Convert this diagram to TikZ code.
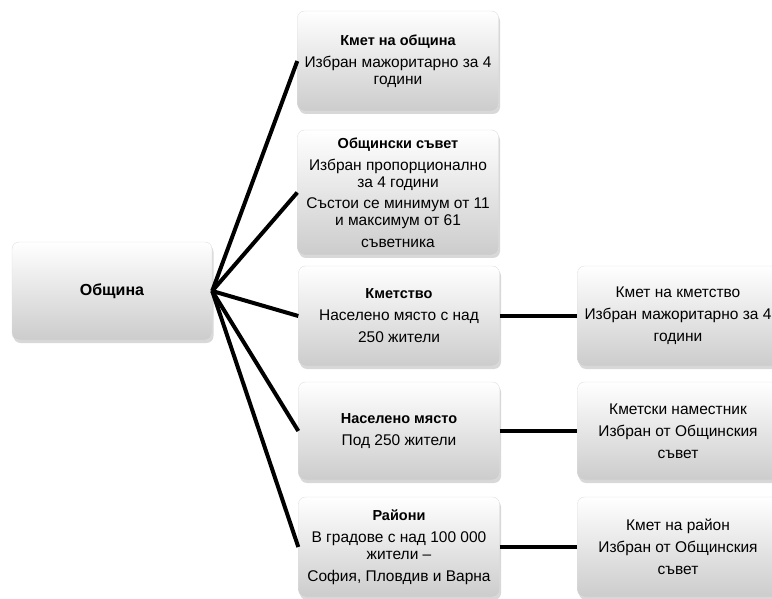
\documentclass[tikz,border=0pt]{standalone}
\usepackage{fontspec}
\setmainfont{Liberation Sans}
\usetikzlibrary{shadows}

\tikzset{
  box/.style={rounded corners=7pt, draw=gray!25, top color=white, bottom color=gray!40,
    drop shadow={shadow xshift=1.5pt, shadow yshift=-3pt, fill=gray!60},
    align=center, font=\fontsize{15.5}{17}\selectfont, inner sep=2pt,
    minimum width=201pt, minimum height=100pt},
  link/.style={line width=4pt}
}
\newcommand{\hd}[1]{{\fontsize{14.5}{17}\selectfont\bfseries #1}}

\begin{document}
\begin{tikzpicture}[x=1pt,y=-1pt]
\useasboundingbox (0,0) rectangle (772,599);
\clip (0,0) rectangle (772,599);
% left
\node[box, minimum width=200pt, minimum height=98pt] (obshtina) at (112,291) {{\fontsize{16}{17}\selectfont\bfseries Община}};
% middle column
\node[box] (kmet) at (398,61) {\hd{Кмет на община}\\[5pt]Избран мажоритарно за 4\\години};
\node[box, minimum height=125pt] (savet) at (398,192.5) {\hd{Общински съвет}\\[5pt]Избран пропорционално\\за 4 години\\[4pt]Състои се минимум от 11\\и максимум от 61\\[5pt]съветника};
\node[box] (kmetstvo) at (399,316) {\hd{Кметство}\\[5pt]Населено място с над\\[5pt]250 жители};
\node[box, minimum height=98pt] (naseleno) at (399,431) {\hd{Населено място}\\[5pt]Под 250 жители};
\node[box] (raioni) at (399,547) {\hd{Райони}\\[5pt]В градове с над 100 000\\жители –\\[5pt]София, Пловдив и Варна};
% right column
\node[box] (kmetK) at (678,316) {Кмет на кметство\\[5pt]Избран мажоритарно за 4\\[5pt]години};
\node[box, minimum height=98pt] (namestnik) at (678,431) {Кметски наместник\\[5pt]Избран от Общинския\\[5pt]съвет};
\node[box] (kmetR) at (678,547) {Кмет на район\\[5pt]Избран от Общинския\\[5pt]съвет};
% links
\draw[link] (obshtina.east) -- (kmet.west);
\draw[link] (obshtina.east) -- (savet.west);
\draw[link] (obshtina.east) -- (kmetstvo.west);
\draw[link] (obshtina.east) -- (naseleno.west);
\draw[link] (obshtina.east) -- (raioni.west);
\draw[link] (kmetstvo.east) -- (kmetK.west);
\draw[link] (naseleno.east) -- (namestnik.west);
\draw[link] (raioni.east) -- (kmetR.west);
\end{tikzpicture}
\end{document}
